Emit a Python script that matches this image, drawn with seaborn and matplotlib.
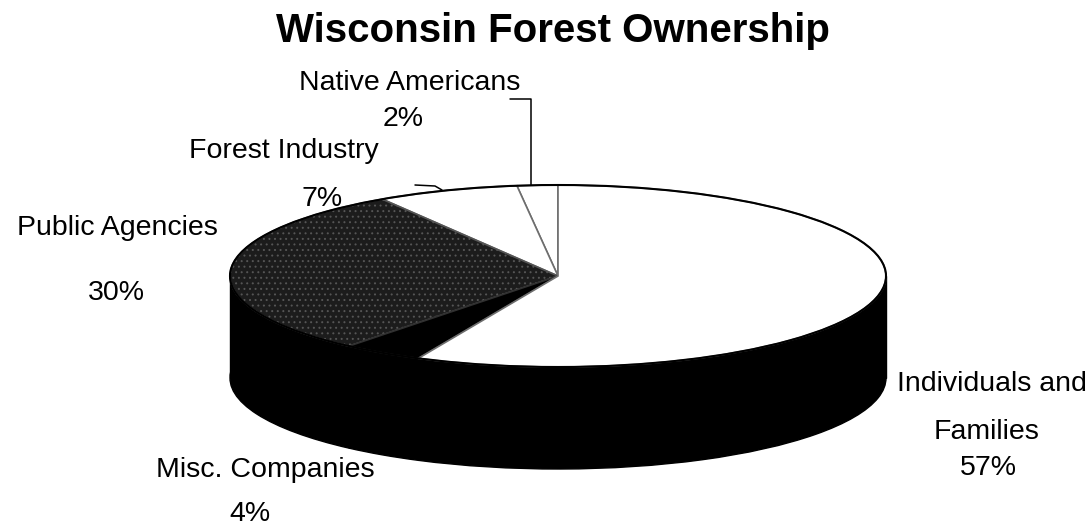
import matplotlib
matplotlib.use("Agg")
import matplotlib.pyplot as plt
import seaborn as sns
from matplotlib.patches import Circle, Rectangle

sns.set_theme(style="white")
plt.rcParams['font.family'] = ['Liberation Sans', 'DejaVu Sans']
plt.rcParams['hatch.linewidth'] = 0.7
plt.rcParams['text.color'] = 'black'

# ---- data ----
title = "Wisconsin Forest Ownership"
categories = ["Native Americans", "Forest Industry", "Public Agencies",
              "Misc. Companies", "Individuals and Families"]
shares = [2, 7, 30, 4, 57]
pct_labels = ["2%", "7%", "30%", "4%", "57%"]

# ---- layout (pixels) ----
W, H = 1092, 527
cx, cy, a, b, depth = 558, 276, 328, 91, 102
D = depth / b


def to_data(px, py):
    return (px - cx) / a, (cy - py) / b


def fx(px):
    return px / W


def fy(py):
    return 1 - py / H


fig = plt.figure(figsize=(W / 100, H / 100), dpi=100)
fig.patch.set_facecolor('white')
ax = fig.add_axes([0, 0, 1, 1])

face_colors = ['white', 'white', '#1c1c1c', 'black', 'white']
edge_colors = ['#6e6e6e', '#6e6e6e', '#555555', '#303030', '#6e6e6e']

# side wall (extruded body)
ax.pie(shares, startangle=90, counterclock=True, center=(0, -D), radius=1,
       colors=['black'] * len(shares),
       wedgeprops=dict(linewidth=1.0, edgecolor='black'))
ax.add_patch(Rectangle((-1, -D), 2, D, facecolor='black', edgecolor='black',
                       linewidth=1.0))

# top face
wedges, _ = ax.pie(shares, startangle=90, counterclock=True, radius=1,
                   colors=face_colors, wedgeprops=dict(linewidth=1.2))
for w, ec in zip(wedges, edge_colors):
    w.set_edgecolor(ec)
wedges[2].set_hatch('...')

ax.add_patch(Circle((0, 0), 1, fill=False, edgecolor='black', linewidth=1.5))

ax.set_aspect('auto')
ax.set_xlim((0 - cx) / a, (W - cx) / a)
ax.set_ylim((cy - H) / b, cy / b)
ax.axis('off')

# leader lines
pts = [to_data(510, 99), to_data(531, 99), to_data(531, 185)]
ax.plot([p[0] for p in pts], [p[1] for p in pts], color='black', lw=1.1)
pts = [to_data(415, 185), to_data(435, 186), to_data(442, 190)]
ax.plot([p[0] for p in pts], [p[1] for p in pts], color='black', lw=1.1)

# title
fig.text(fx(553), fy(31), title, ha='center', va='center',
         fontsize=29, fontweight='bold', color='black')

fs = 20.5
tc = 'black'
# labels
fig.text(fx(410), fy(83), categories[0], ha='center', va='center', fontsize=fs, color=tc)
fig.text(fx(403), fy(119), pct_labels[0], ha='center', va='center', fontsize=fs, color=tc)

fig.text(fx(284), fy(151), categories[1], ha='center', va='center', fontsize=fs, color=tc)
fig.text(fx(322), fy(199), pct_labels[1], ha='center', va='center', fontsize=fs, color=tc)

fig.text(fx(117), fy(228), categories[2], ha='center', va='center', fontsize=fs, color=tc)
fig.text(fx(116), fy(293), pct_labels[2], ha='center', va='center', fontsize=fs, color=tc)

fig.text(fx(265), fy(470), categories[3], ha='center', va='center', fontsize=fs, color=tc)
fig.text(fx(250), fy(514), pct_labels[3], ha='center', va='center', fontsize=fs, color=tc)

first, second = categories[4].rsplit(' ', 1)
fig.text(fx(992), fy(384), first, ha='center', va='center', fontsize=fs, color=tc)
fig.text(fx(987), fy(432), second, ha='center', va='center', fontsize=fs, color=tc)
fig.text(fx(988), fy(468), pct_labels[4], ha='center', va='center', fontsize=fs, color=tc)

fig.savefig("out.png", dpi=100, facecolor='white')
